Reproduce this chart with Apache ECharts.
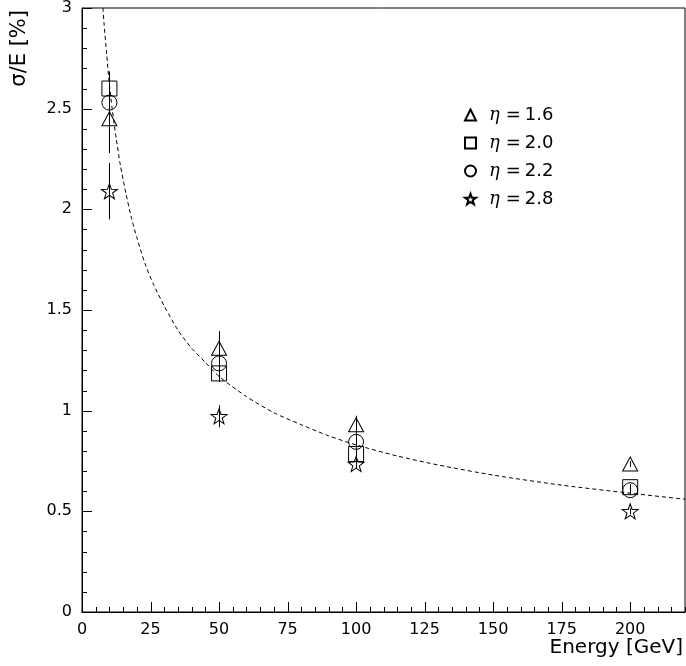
<!DOCTYPE html>
<html>
<head>
<meta charset="utf-8">
<script src="https://cdn.jsdelivr.net/npm/echarts@6/dist/echarts.min.js"></script>
<style>html,body{margin:0;padding:0;background:#fff}#c{width:686px;height:666px}</style>
</head>
<body>
<div id="c"></div>
<script>
// ---- data ----
const energies = [10, 50, 100, 200];
const seriesNames = ['η=1.6', 'η=2.0', 'η=2.2', 'η=2.8'];
const eta16 = [2.45, 1.31, 0.93, 0.735];
const eta20 = [2.60, 1.185, 0.785, 0.62];
const eta22 = [2.53, 1.235, 0.845, 0.605];
const eta28 = [2.09, 0.972, 0.735, 0.50];
const err16 = [0.17, 0.085, 0.045, 0.015];
const err20 = [0.085, 0.04, 0.03, 0.015];
const err22 = [0.12, 0.09, 0.04, 0.02];
const err28 = [0.14, 0.055, 0.02, 0.015];
// dashed fit curve
const curveE = [7.65, 8, 9, 10, 11, 12.5, 14, 16, 18, 20, 23, 26, 30, 35, 40, 45, 50, 60, 70, 80, 90, 100, 115, 130, 150, 175, 200, 220];
const curveV = [3.00, 2.93, 2.77, 2.62, 2.50, 2.35, 2.22, 2.08, 1.96, 1.86, 1.73, 1.63, 1.52, 1.40, 1.31, 1.24, 1.17, 1.07, 0.99, 0.93, 0.875, 0.83, 0.775, 0.73, 0.68, 0.63, 0.59, 0.56];
const xTicks = [0, 25, 50, 75, 100, 125, 150, 175, 200];
const yTicks = [0, 0.5, 1, 1.5, 2, 2.5, 3];
const X_MAX = 220, Y_MAX = 3, MINOR_DIV = 5;

const values = [eta16, eta20, eta22, eta28];
const errors = [err16, err20, err22, err28];
const starPath = 'path://M0,-1L0.235,-0.324L0.951,-0.309L0.380,0.124L0.588,0.809L0,0.4L-0.588,0.809L-0.380,0.124L-0.951,-0.309L-0.235,-0.324Z';
const symbols = ['triangle', 'rect', 'circle', starPath];
const sizes = [[15, 14], [15, 15], [15, 15], [16, 15]];

const errData = [];
values.forEach((vals, s) => vals.forEach((v, i) => {
  errData.push([energies[i], v - errors[s][i], v + errors[s][i]]);
}));

// inward tick marks (major + minor), positioned through the axis scales
const tickData = []; // [axis(0=x,1=y), value, length]
const xStep = xTicks[1] - xTicks[0], yStep = yTicks[1] - yTicks[0];
for (let k = 0; k * xStep / MINOR_DIV <= X_MAX + 1e-9; k++) {
  tickData.push([0, +(k * xStep / MINOR_DIV).toFixed(4), k % MINOR_DIV === 0 ? 10 : 5]);
}
for (let k = 0; k * yStep / MINOR_DIV <= Y_MAX + 1e-9; k++) {
  tickData.push([1, +(k * yStep / MINOR_DIV).toFixed(4), k % MINOR_DIV === 0 ? 10 : 5]);
}

const FONT = 'DejaVu Sans';
const chart = echarts.init(document.getElementById('c'), null, {renderer: 'canvas'});
const scatterSeries = values.map((vals, s) => ({
  name: seriesNames[s],
  type: 'scatter',
  symbol: symbols[s],
  symbolSize: sizes[s],
  itemStyle: {color: 'rgba(0,0,0,0)', borderColor: '#000', borderWidth: 1, opacity: 1},
  data: vals.map((v, i) => [energies[i], v]),
  z: 4
}));

chart.setOption({
  animation: false,
  grid: {left: 82, right: 1, top: 8, bottom: 54, show: true, borderColor: '#000', borderWidth: 1, backgroundColor: 'transparent'},
  xAxis: {
    type: 'value', min: 0, max: X_MAX, interval: xStep,
    axisLine: {show: true, lineStyle: {color: '#000', width: 1}},
    axisTick: {show: false},
    minorTick: {show: false},
    splitLine: {show: false},
    axisLabel: {
      color: '#000', fontFamily: FONT, fontSize: 16, margin: 10, showMaxLabel: false,
      formatter: v => (xTicks.indexOf(v) >= 0 ? String(v) : '')
    }
  },
  yAxis: {
    type: 'value', min: 0, max: Y_MAX, interval: yStep,
    axisLine: {show: true, lineStyle: {color: '#000', width: 1}},
    axisTick: {show: false},
    minorTick: {show: false},
    splitLine: {show: false},
    axisLabel: {
      color: '#000', fontFamily: FONT, fontSize: 16, margin: 10,
      formatter: v => (yTicks.indexOf(v) >= 0 ? String(v) : '')
    }
  },
  legend: {
    orient: 'vertical', left: 459, top: 101, itemWidth: 11, itemHeight: 11, itemGap: 10,
    data: seriesNames,
    formatter: name => '{e|η}{s|=}{n|' + name.slice(2) + '}',
    textStyle: {
      color: '#000', fontSize: 18, fontFamily: FONT,
      rich: {
        e: {fontFamily: 'DejaVu Serif', fontStyle: 'italic', fontSize: 18, color: '#000', padding: [0, 0, 0, 8]},
        s: {fontFamily: FONT, fontSize: 18, color: '#000', padding: [0, 4, 0, 6]},
        n: {fontFamily: FONT, fontSize: 18, color: '#000'}
      }
    }
  },
  graphic: [
    {type: 'text', x: 20, y: 10, rotation: Math.PI / 2,
     style: {text: 'σ/E [%]', fill: '#000', font: '21px "DejaVu Sans"', textAlign: 'right', textVerticalAlign: 'middle'}},
    {type: 'text', x: 683, y: 648,
     style: {text: 'Energy [GeV]', fill: '#000', font: '20px "DejaVu Sans"', textAlign: 'right', textVerticalAlign: 'middle'}}
  ],
  series: [
    {
      name: 'ticks', type: 'custom', z: 5, silent: true,
      encode: {x: 1, y: 1},
      renderItem: (params, api) => {
        const isY = api.value(0) === 1, v = api.value(1), len = api.value(2);
        if (!isY) {
          const p = api.coord([v, 0]);
          const x = Math.round(p[0]) + 0.5;
          return {type: 'line', shape: {x1: x, y1: p[1], x2: x, y2: p[1] - len}, style: {stroke: '#000', lineWidth: 1}};
        }
        const p = api.coord([0, v]);
        const y = Math.round(p[1]) + 0.5;
        return {type: 'line', shape: {x1: p[0], y1: y, x2: p[0] + len, y2: y}, style: {stroke: '#000', lineWidth: 1}};
      },
      data: tickData
    },
    {
      name: 'fit', type: 'line', smooth: 0.25, symbol: 'none', clip: true,
      lineStyle: {color: '#000', width: 1, type: [4, 3]},
      data: curveE.map((e, i) => [e, curveV[i]]), z: 2
    },
    {
      name: 'errors', type: 'custom', z: 3,
      renderItem: (params, api) => {
        const p1 = api.coord([api.value(0), api.value(1)]);
        const p2 = api.coord([api.value(0), api.value(2)]);
        const x = Math.round(p1[0]) + 0.5;
        return {type: 'line', shape: {x1: x, y1: p1[1], x2: x, y2: p2[1]},
                style: {stroke: '#000', lineWidth: 1}};
      },
      data: errData
    }
  ].concat(scatterSeries)
});
</script>
</body>
</html>
